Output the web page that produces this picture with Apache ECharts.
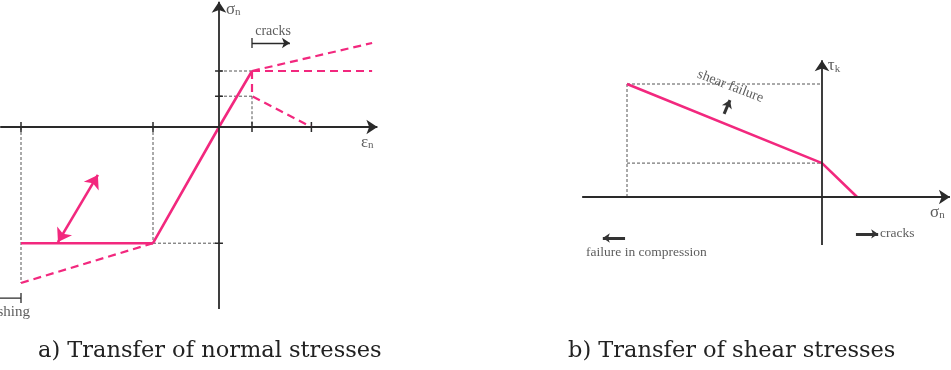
<!DOCTYPE html>
<html><head><meta charset="utf-8">
<script src="https://cdn.jsdelivr.net/npm/echarts@6/dist/echarts.min.js"></script>
<style>html,body{margin:0;background:#fff}#c{width:951px;height:370px}</style>
</head><body><div id="c"></div>
<script>
// ---------- Panel a: normal stresses (strain eps_n, stress sigma_n) ----------
const strainTicks = [-6, -2, 1, 2.8];
const stressTicks = [2, 1.1, -4.15];
const elastic = [[-2, -4.15], [0, 0], [1, 2]];
const plateau = [[-6, -4.15], [-2, -4.15]];
const compSoft = [[-6, -5.57], [-2, -4.15]];
const tensHard = [[1, 2], [4.64, 3]];
const tensPerfect = [[1, 2], [4.64, 2]];
const tensSoft = [[1, 2], [1, 1.1], [2.8, 0]];
const guidesA = [[[0, 2], [1, 2]], [[0, 1.1], [1, 1.1]], [[1, 1.1], [1, 0]],
                 [[-2, 0], [-2, -4.15]], [[-2, -4.15], [0, -4.15]], [[-6, 0], [-6, -5.57]]];
const unloadArrow = [[-4.88, -4.11], [-3.67, -1.71]];
const cracksArrowA = [[1, 3.0], [2.15, 3.0]];
const crushArrow = [[-6, -6.11], [-7.2, -6.11]];
const axisAx = [[-6.63, 0], [4.8, 0]];
const axisAy = [[0, -6.5], [0, 4.47]];

// ---------- Panel b: shear stresses (sigma_n, tau_k) ----------
const envelope = [[-5, 10], [0, 3], [0.9, 0]];
const guidesB = [[[-5, 10], [0, 10]], [[-5, 3], [0, 3]], [[-5, 10], [-5, 0]]];
const shearArrow = [[-2.51, 7.35], [-2.36, 8.58]];
const compArrow = [[-5.05, -3.63], [-5.62, -3.63]];
const cracksArrowB = [[0.87, -3.27], [1.44, -3.27]];
const axisBx = [[-6.15, 0], [3.28, 0]];
const axisBy = [[0, -4.25], [0, 12.1]];

const PINK = '#f2287e', DARK = '#2a2a2a', GREY = '#555';
const FONT = 'Liberation Serif';

function joinSegs(segs) {
  const out = [];
  segs.forEach((s, i) => { if (i) out.push(null); s.forEach(p => out.push(p)); });
  return out;
}
function line(gi, data, color, width, type) {
  return { type: 'line', xAxisIndex: gi, yAxisIndex: gi, data, symbol: 'none', silent: true,
    connectNulls: false, clip: false,
    lineStyle: { color, width, type: type || 'solid' } };
}
function arrow(gi, seg, color, width, symbols, size) {
  return { type: 'line', xAxisIndex: gi, yAxisIndex: gi, data: [], silent: true,
    markLine: { silent: true, animation: false, symbol: symbols, symbolSize: size,
      label: { show: false }, lineStyle: { color, width, type: 'solid' },
      emphasis: { disabled: true },
      data: [[{ coord: seg[0] }, { coord: seg[1] }]] } };
}
function label(gi, pt, text, o) {
  o = o || {};
  return { type: 'scatter', xAxisIndex: gi, yAxisIndex: gi, data: [pt], symbolSize: 0, silent: true, clip: false,
    label: { show: true, position: [0, 0], formatter: text, align: o.align || 'left', verticalAlign: 'middle',
      rotate: o.rotate || 0, fontFamily: FONT, fontSize: o.size || 14, color: o.color || '#333',
      rich: { s: { fontFamily: FONT, fontSize: 17, color: '#333' },
              n: { fontFamily: FONT, fontSize: 11, color: '#333', verticalAlign: 'bottom', padding: [6, 0, 0, 0] } } } };
}
function tickSegs(vals, horiz, half) {
  return vals.map(v => horiz ? [[v, -half], [v, half]] : [[-half, v], [half, v]]);
}
function capSeg(pt, half) { return [[pt[0], pt[1] - half], [pt[0], pt[1] + half]]; }

const series = [
  // panel a guides
  line(0, joinSegs(guidesA), GREY, 1, [3, 2]),
  // axes a
  arrow(0, axisAx, DARK, 1.8, ['none', 'arrow'], 11),
  arrow(0, axisAy, DARK, 1.8, ['none', 'arrow'], 11),
  line(0, joinSegs(tickSegs(strainTicks, true, 0.18)), DARK, 1.5),
  line(0, joinSegs(tickSegs(stressTicks, false, 0.12)), DARK, 1.5),
  // curves a
  line(0, elastic, PINK, 2.6),
  line(0, plateau, PINK, 2.6),
  line(0, compSoft, PINK, 2.2, [8, 5]),
  line(0, tensHard, PINK, 2.2, [8, 5]),
  line(0, tensPerfect, PINK, 2.2, [8, 5]),
  line(0, tensSoft, PINK, 2.2, [8, 5]),
  arrow(0, unloadArrow, PINK, 2.6, ['arrow', 'arrow'], 13),
  arrow(0, cracksArrowA, DARK, 1.3, ['none', 'arrow'], 8),
  line(0, capSeg(cracksArrowA[0], 0.18), DARK, 1.3),
  line(0, crushArrow, DARK, 1.3),
  line(0, capSeg(crushArrow[0], 0.18), DARK, 1.3),
  label(0, [0.21, 4.2], '{s|σ}{n|n}'),
  label(0, [4.3, -0.55], '{s|ε}{n|n}'),
  label(0, [1.64, 3.43], 'cracks', { align: 'center', size: 14 }),
  label(0, [-5.73, -6.62], 'crushing', { align: 'right', size: 15 }),

  // panel b
  line(1, joinSegs(guidesB), GREY, 1, [3, 2]),
  arrow(1, axisBx, DARK, 1.8, ['none', 'arrow'], 11),
  arrow(1, axisBy, DARK, 1.8, ['none', 'arrow'], 11),
  line(1, envelope, PINK, 2.6),
  arrow(1, shearArrow, '#333', 3, ['none', 'arrow'], 8),
  arrow(1, compArrow, '#333', 3, ['none', 'arrow'], 7),
  arrow(1, cracksArrowB, '#333', 3, ['none', 'arrow'], 7),
  label(1, [-2.35, 9.8], 'shear failure', { align: 'center', rotate: -21, size: 14 }),
  label(1, [-6.05, -4.87], 'failure in compression', { size: 13.5 }),
  label(1, [1.49, -3.27], 'cracks', { size: 13.5 }),
  label(1, [2.77, -1.35], '{s|σ}{n|n}'),
  label(1, [0.15, 11.6], '{s|τ}{n|k}')
];

const hiddenAxis = (gi, min, max) => ({ type: 'value', gridIndex: gi, min, max, show: false, splitLine: { show: false } });

const option = {
  animation: false,
  backgroundColor: '#fff',
  grid: [
    { left: 0, top: 0, width: 390, height: 330 },
    { left: 570, top: 0, width: 381, height: 330 }
  ],
  xAxis: [hiddenAxis(0, -219 / 33, (390 - 219) / 33), hiddenAxis(1, -252 / 39, 129 / 39)],
  yAxis: [hiddenAxis(0, (127 - 330) / 28, 127 / 28), hiddenAxis(1, (197 - 330) / 11.3, 197 / 11.3)],
  title: [
    { text: 'a) Transfer of normal stresses', left: 38, top: 340, padding: 0,
      textStyle: { fontFamily: 'DejaVu Serif', fontWeight: 'normal', fontSize: 22.5, color: '#222' } },
    { text: 'b) Transfer of shear stresses', left: 568, top: 340, padding: 0,
      textStyle: { fontFamily: 'DejaVu Serif', fontWeight: 'normal', fontSize: 22.5, color: '#222' } }
  ],
  series
};
const chart = echarts.init(document.getElementById('c'), null, { renderer: 'canvas' });
chart.setOption(option);
</script></body></html>
